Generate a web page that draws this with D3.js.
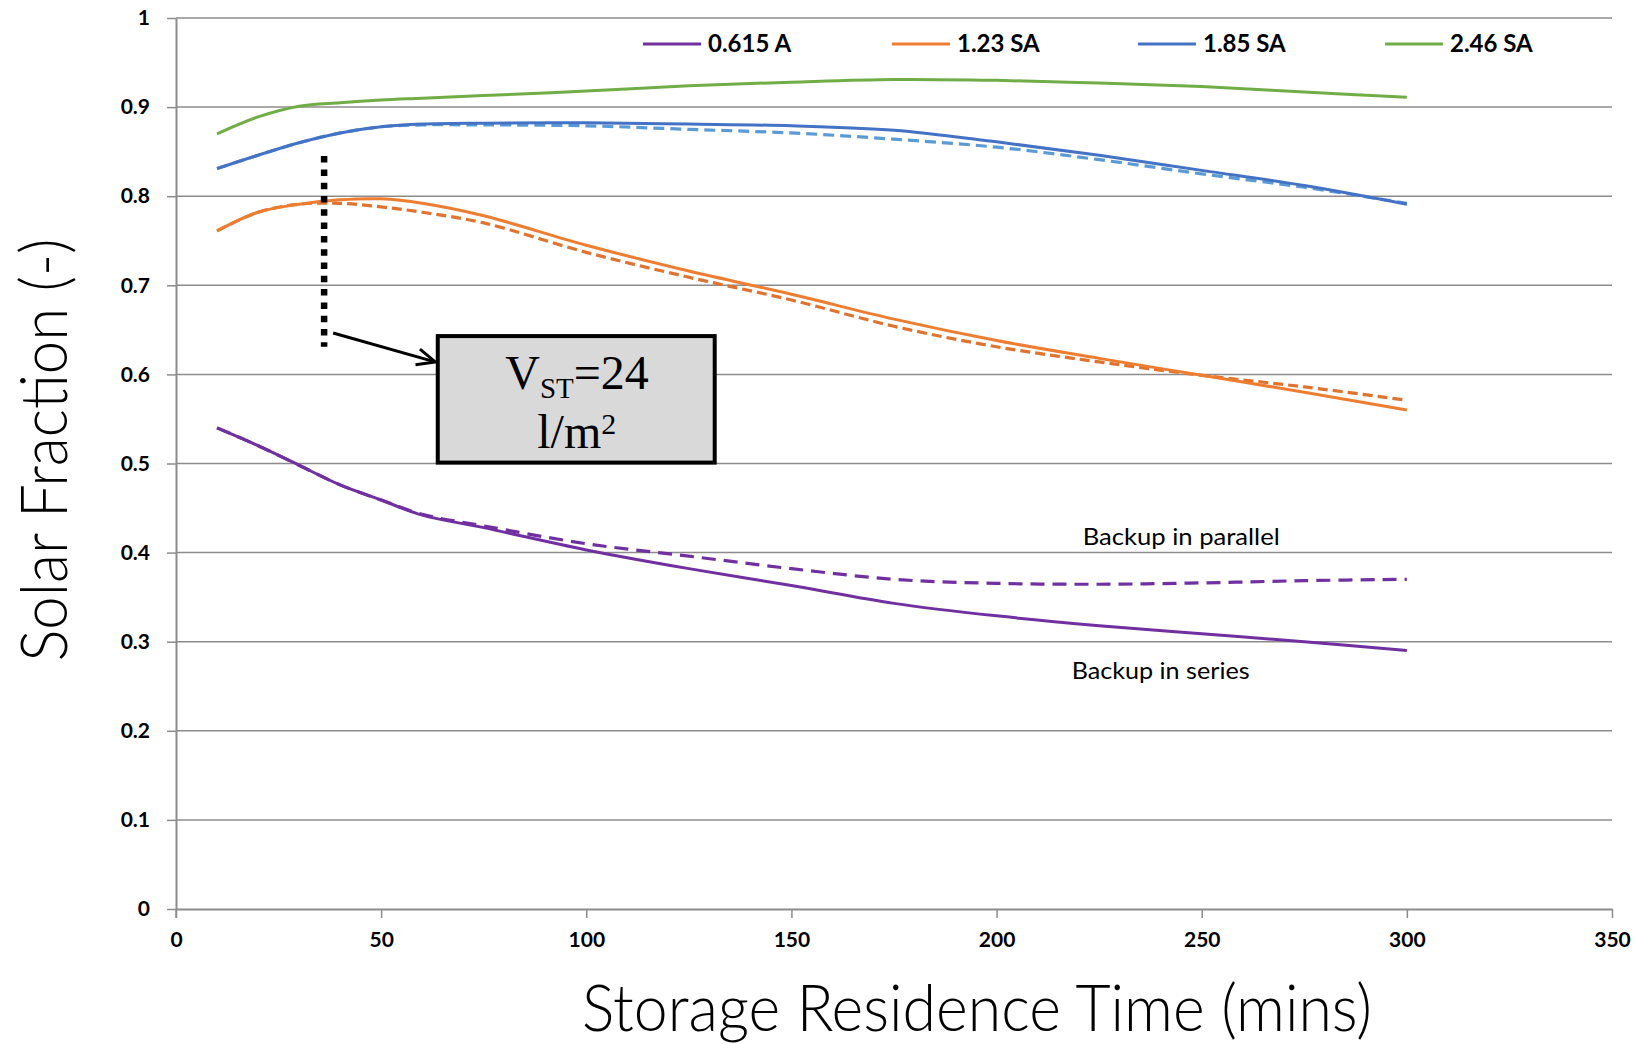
<!DOCTYPE html>
<html>
<head>
<meta charset="utf-8">
<script src="https://cdn.jsdelivr.net/npm/d3@7"></script>
<style>
  html, body { margin: 0; padding: 0; background: #ffffff; }
  svg { display: block; }
</style>
</head>
<body>
<svg id="chart" width="1641" height="1044"></svg>
<script>
// ---------- DATA ----------
const times = [10, 20, 30, 40, 50, 60, 75, 100, 125, 150, 175, 200, 225, 250, 275, 300];

const seriesNames = ["0.615 A", "1.23 SA", "1.85 SA", "2.46 SA"];

// Backup in series (solid lines)
const seriesA0615 = [0.540, 0.520, 0.498, 0.476, 0.459, 0.442, 0.428, 0.403, 0.382, 0.363, 0.343, 0.329, 0.318, 0.309, 0.300, 0.290];
const seriesSA123 = [0.761, 0.782, 0.791, 0.796, 0.797, 0.792, 0.778, 0.745, 0.716, 0.690, 0.662, 0.638, 0.618, 0.599, 0.580, 0.560];
const seriesSA185 = [0.831, 0.846, 0.860, 0.871, 0.878, 0.881, 0.882, 0.8825, 0.881, 0.879, 0.874, 0.861, 0.846, 0.829, 0.812, 0.791];
const seriesSA246 = [0.870, 0.889, 0.901, 0.905, 0.908, 0.910, 0.913, 0.918, 0.924, 0.928, 0.931, 0.930, 0.927, 0.923, 0.917, 0.911];

// Backup in parallel (dashed lines)
const parA0615 = [0.540, 0.520, 0.498, 0.476, 0.459, 0.443, 0.430, 0.410, 0.396, 0.382, 0.370, 0.3655, 0.3645, 0.366, 0.3685, 0.370];
const parSA123 = [0.761, 0.782, 0.791, 0.792, 0.788, 0.782, 0.770, 0.737, 0.709, 0.6835, 0.654, 0.631, 0.614, 0.599, 0.586, 0.571];
const parSA185 = [0.831, 0.846, 0.860, 0.871, 0.878, 0.880, 0.880, 0.879, 0.875, 0.871, 0.864, 0.855, 0.841, 0.825, 0.810, 0.792];

const xTicks = [0, 50, 100, 150, 200, 250, 300, 350];
const yTicks = [0, 0.1, 0.2, 0.3, 0.4, 0.5, 0.6, 0.7, 0.8, 0.9, 1];
const yTickLabels = ["0", "0.1", "0.2", "0.3", "0.4", "0.5", "0.6", "0.7", "0.8", "0.9", "1"];

const xTitle = "Storage Residence Time (mins)";
const yTitle = "Solar Fraction (-)";
const labelParallel = "Backup in parallel";
const labelSeries = "Backup in series";

// ---------- STYLE ----------
const solidColors = ["#7030A0", "#ED7D31", "#4472C4", "#70AD47"];
const dashColors  = ["#7030A0", "#DF7330", "#5B9BD5"];
const dashPatterns = ["14,8", "10,5", "11,6"];

(function () {
const svg = d3.select("#chart");
const pL = 176, pR = 1612, pT = 18, pB = 909;

const x = d3.scaleLinear().domain([0, 350]).range([pL, pR]);
const y = d3.scaleLinear().domain([0, 1]).range([pB, pT]);

// gridlines
svg.append("g").selectAll("line").data(yTicks.slice(1)).join("line")
  .attr("x1", pL).attr("x2", pR)
  .attr("y1", d => y(d)).attr("y2", d => y(d))
  .attr("stroke", "#8c8c8c").attr("stroke-width", 1.5);

// axes
const yAxis = d3.axisLeft(y).tickValues(yTicks)
  .tickFormat((d, i) => yTickLabels[i])
  .tickSizeInner(9).tickSizeOuter(0).tickPadding(17);
const gy = svg.append("g").attr("transform", `translate(${pL},0)`).call(yAxis);

const xAxis = d3.axisBottom(x).tickValues(xTicks)
  .tickFormat(d3.format("d"))
  .tickSizeInner(9).tickSizeOuter(0).tickPadding(14);
const gx = svg.append("g").attr("transform", `translate(0,${pB})`).call(xAxis);

[gx, gy].forEach(g => {
  g.select(".domain").attr("stroke", "#8c8c8c").attr("stroke-width", 2);
  g.selectAll(".tick line").attr("stroke", "#8c8c8c").attr("stroke-width", 1.5);
  g.selectAll(".tick text")
    .attr("fill", "#000")
    .style("font-family", "Lato, 'Open Sans', sans-serif")
    .style("font-weight", "700")
    .style("font-size", "21px");
});
svg.append("line")
  .attr("x1", pL).attr("x2", pL)
  .attr("y1", pB).attr("y2", pB + 9)
  .attr("stroke", "#8c8c8c").attr("stroke-width", 1.5);

// ---------- LINES ----------
const line = d3.line()
  .x(d => x(d[0])).y(d => y(d[1]))
  .curve(d3.curveCatmullRom.alpha(0.5));

const solidSeries = [seriesA0615, seriesSA123, seriesSA185, seriesSA246];
const dashSeries = [parA0615, parSA123, parSA185];

const gLines = svg.append("g");
solidSeries.forEach((vals, i) => {
  if (i < dashSeries.length) {
    gLines.append("path")
      .datum(times.map((t, k) => [t, dashSeries[i][k]]))
      .attr("d", line)
      .attr("fill", "none")
      .attr("stroke", dashColors[i])
      .attr("stroke-width", 3.2)
      .attr("stroke-dasharray", dashPatterns[i]);
  }
  gLines.append("path")
    .datum(times.map((t, k) => [t, vals[k]]))
    .attr("d", line)
    .attr("fill", "none")
    .attr("stroke", solidColors[i])
    .attr("stroke-width", 3);
});

// ---------- LEGEND ----------
const legendX = [643, 892, 1138, 1385];
const legendY = 44;
const leg = svg.append("g");
seriesNames.forEach((name, i) => {
  leg.append("line")
    .attr("x1", legendX[i]).attr("x2", legendX[i] + 58)
    .attr("y1", legendY).attr("y2", legendY)
    .attr("stroke", solidColors[i]).attr("stroke-width", 3);
  leg.append("text")
    .attr("x", legendX[i] + 65).attr("y", legendY + 8)
    .style("font-family", "Lato, 'Open Sans', sans-serif")
    .style("font-weight", "700")
    .style("font-size", "24px")
    .attr("fill", "#000")
    .text(name);
});

// ---------- ANNOTATIONS ----------
svg.append("line")
  .attr("x1", x(36.1)).attr("x2", x(36.1))
  .attr("y1", y(0.845)).attr("y2", y(0.631))
  .attr("stroke", "#000").attr("stroke-width", 6.5)
  .attr("stroke-dasharray", "6.5,6.8");

const ax1 = x(38.3), ay1 = y(0.6465), ax2 = x(63.2), ay2 = y(0.614);
svg.append("line")
  .attr("x1", ax1).attr("y1", ay1).attr("x2", ax2 - 2).attr("y2", ay2 - 0.5)
  .attr("stroke", "#000").attr("stroke-width", 3);
const ang = Math.atan2(ay2 - ay1, ax2 - ax1);
const hl = 20, ha = 0.42;
svg.append("path")
  .attr("d", `M${ax2 - hl * Math.cos(ang - ha)},${ay2 - hl * Math.sin(ang - ha)} L${ax2},${ay2} L${ax2 - hl * Math.cos(ang + ha)},${ay2 - hl * Math.sin(ang + ha)}`)
  .attr("fill", "none").attr("stroke", "#000").attr("stroke-width", 3);

const bx0 = x(63.8), bx1 = x(131.3), by0 = y(0.643), by1 = y(0.501);
svg.append("rect")
  .attr("x", bx0).attr("y", by0)
  .attr("width", bx1 - bx0).attr("height", by1 - by0)
  .attr("fill", "#D9D9D9").attr("stroke", "#000").attr("stroke-width", 4);
const bcx = (bx0 + bx1) / 2;
const bt = svg.append("text")
  .attr("y", by0 + 53)
  .style("font-family", "'Liberation Serif', 'Times New Roman', serif")
  .style("font-size", "48px").attr("fill", "#000");
bt.append("tspan").attr("x", bcx - 71).text("V");
bt.append("tspan").attr("dy", 9).style("font-size", "29px").text("ST");
bt.append("tspan").attr("dy", -9).text("=24");
bt.append("tspan").attr("x", bcx - 39).attr("dy", 59).text("l/m");
bt.append("tspan").attr("dy", -14).style("font-size", "30px").text("2");

svg.append("text")
  .attr("x", x(221)).attr("y", y(0.4085))
  .style("font-family", "Lato, 'Open Sans', sans-serif")
  .style("font-size", "23px").attr("fill", "#000")
  .attr("textLength", 197).attr("lengthAdjust", "spacingAndGlyphs")
  .text(labelParallel);
svg.append("text")
  .attr("x", x(218.3)).attr("y", y(0.258))
  .style("font-family", "Lato, 'Open Sans', sans-serif")
  .style("font-size", "23px").attr("fill", "#000")
  .attr("textLength", 178).attr("lengthAdjust", "spacingAndGlyphs")
  .text(labelSeries);

// ---------- TITLES ----------
svg.append("text")
  .attr("x", 977).attr("y", 1031)
  .attr("text-anchor", "middle")
  .style("font-family", "Lato, 'Open Sans', sans-serif")
  .style("font-weight", "300")
  .style("font-size", "66px").attr("fill", "#000")
  .attr("textLength", 790).attr("lengthAdjust", "spacingAndGlyphs")
  .text(xTitle);

svg.append("text")
  .attr("transform", "translate(67,450) rotate(-90)")
  .attr("text-anchor", "middle")
  .style("font-family", "Lato, 'Open Sans', sans-serif")
  .style("font-weight", "300")
  .style("font-size", "66px").attr("fill", "#000")
  .attr("textLength", 423).attr("lengthAdjust", "spacingAndGlyphs")
  .text(yTitle);
})();
</script>
</body>
</html>
